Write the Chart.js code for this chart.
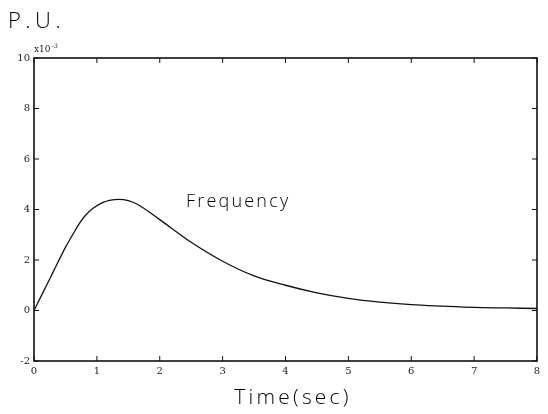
<!DOCTYPE html>
<html>
<head>
<meta charset="utf-8">
<script src="https://cdn.jsdelivr.net/npm/chart.js@4"></script>
<style>
  html, body { margin: 0; padding: 0; background: #fff; }
  #wrap { width: 548px; height: 414px; }
</style>
</head>
<body>
<div id="wrap"><canvas id="freqChart" width="548" height="414"></canvas></div>
<script>
// data (frequency in units of 1e-3 P.U.)
const timeSec = [0, 0.1, 0.2, 0.3, 0.5, 0.65, 0.75, 0.85, 0.95, 1.1, 1.2, 1.35, 1.5, 1.65, 2.0, 2.5, 3.0, 3.5, 4.0, 4.5, 5.0, 5.5, 6.0, 6.5, 7.0, 7.5, 8.0];
const freqVals = [0, 0.5, 1.0, 1.5, 2.5, 3.15, 3.55, 3.85, 4.07, 4.28, 4.36, 4.4, 4.35, 4.2, 3.6, 2.7, 1.95, 1.37, 1.0, 0.7, 0.48, 0.33, 0.23, 0.17, 0.12, 0.1, 0.08];
const xTicks = [0, 1, 2, 3, 4, 5, 6, 7, 8];
const yTicks = [-2, 0, 2, 4, 6, 8, 10];

const tickFont = { family: 'DejaVu Serif', size: 10 };
const labelFamily = '"Open Sans", "DejaVu Sans", sans-serif';

// MATLAB style box with inward ticks + texts
const matlabDeco = {
    id: 'matlabDeco',
    afterDraw(chart) {
        const { ctx, chartArea: a, scales } = chart;
        ctx.save();
        ctx.strokeStyle = '#111';
        ctx.lineWidth = 1.6;
        ctx.strokeRect(a.left, a.top, a.right - a.left, a.bottom - a.top);

        ctx.lineWidth = 1;
        xTicks.forEach(v => {
            const px = scales.x.getPixelForValue(v);
            ctx.beginPath();
            ctx.moveTo(px, a.bottom); ctx.lineTo(px, a.bottom - 5);
            ctx.moveTo(px, a.top); ctx.lineTo(px, a.top + 5);
            ctx.stroke();
        });
        yTicks.forEach(v => {
            const py = scales.y.getPixelForValue(v);
            ctx.beginPath();
            ctx.moveTo(a.left, py); ctx.lineTo(a.left + 5, py);
            ctx.moveTo(a.right, py); ctx.lineTo(a.right - 5, py);
            ctx.stroke();
        });

        ctx.fillStyle = '#222';
        // exponent label
        ctx.font = '9px "DejaVu Serif"';
        ctx.textAlign = 'left';
        ctx.textBaseline = 'alphabetic';
        ctx.fillText('x10', a.left, a.top - 6);
        ctx.font = '6px "DejaVu Serif"';
        ctx.fillText('-3', a.left + 18, a.top - 10);

        // P.U.
        ctx.fillStyle = '#000';
        ctx.font = '300 22px ' + labelFamily;
        ctx.letterSpacing = '4.5px';
        ctx.fillText('P.U.', 8, 28);

        // curve label
        ctx.font = '300 18px ' + labelFamily;
        ctx.letterSpacing = '2.2px';
        ctx.fillText('Frequency', 186, 207);

        // x title
        ctx.font = '300 21px ' + labelFamily;
        ctx.letterSpacing = '3.2px';
        ctx.textAlign = 'center';
        ctx.fillText('Time(sec)', 293, 404);
        ctx.restore();
    }
};

new Chart(document.getElementById('freqChart'), {
    type: 'line',
    data: {
        datasets: [{
            label: 'Frequency',
            data: timeSec.map((t, i) => ({ x: t, y: freqVals[i] })),
            borderColor: '#111',
            borderWidth: 1.3,
            pointRadius: 0,
            cubicInterpolationMode: 'monotone',
            fill: false
        }]
    },
    options: {
        responsive: false,
        animation: false,
        layout: { padding: { top: 58, right: 11, left: 0, bottom: 0 } },
        plugins: { legend: { display: false }, tooltip: { enabled: false } },
        scales: {
            x: {
                type: 'linear',
                min: 0, max: 8,
                afterBuildTicks: s => { s.ticks = xTicks.map(v => ({ value: v })); },
                afterFit: s => { s.height = 53; },
                grid: { display: false, drawTicks: false },
                border: { display: false },
                ticks: { color: '#222', font: tickFont, padding: 4 }
            },
            y: {
                type: 'linear',
                min: -2, max: 10,
                afterBuildTicks: s => { s.ticks = yTicks.map(v => ({ value: v })); },
                afterFit: s => { s.width = 34; },
                grid: { display: false, drawTicks: false },
                border: { display: false },
                ticks: { color: '#222', font: tickFont, padding: 4 }
            }
        }
    },
    plugins: [matlabDeco]
});
</script>
</body>
</html>
